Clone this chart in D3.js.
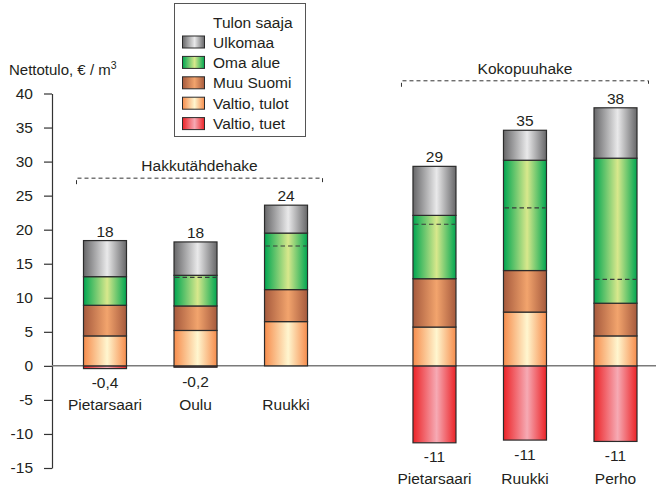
<!DOCTYPE html>
<html>
<head>
<meta charset="utf-8">
<script src="https://cdn.jsdelivr.net/npm/d3@7"></script>
<style>
  html, body { margin: 0; padding: 0; background: #fff; }
  svg { display: block; font-family: "Liberation Sans", Arial, sans-serif; }
</style>
</head>
<body>
<svg id="chart" width="656" height="486"></svg>
<script>
// Net income per solid cubic metre of wood chips, split by who receives it
const groups = ["Hakkutähdehake", "Kokopuuhake"];
const places = ["Pietarsaari", "Oulu", "Ruukki", "Pietarsaari", "Ruukki", "Perho"];
const groupOf = [0, 0, 0, 1, 1, 1];
const seriesNames = ["Ulkomaa", "Oma alue", "Muu Suomi", "Valtio, tulot", "Valtio, tuet"];

const valtioTulot = [4.4, 5.2, 6.5, 5.7, 7.9, 4.4];
const muuSuomi    = [4.5, 3.6, 4.7, 7.1, 6.1, 4.8];
const omaAlue     = [4.2, 4.5, 8.3, 9.3, 16.2, 21.3];
const ulkomaa     = [5.3, 4.9, 4.1, 7.2, 4.4, 7.4];
const valtioTuet  = [-0.4, -0.2, 0, -11.3, -10.9, -11.1];
// share of "Oma alue" below the dashed divider inside the green segment
const omaAlueLower = [null, 4.2, 6.4, 8.0, 9.2, 3.5];

const yTicks = [-15, -10, -5, 0, 5, 10, 15, 20, 25, 30, 35, 40];

// colour pairs: [edge, highlight]
const palette = {
  "Ulkomaa":       ["#676769", "#e9e9ea"],
  "Oma alue":      ["#00a651", "#d8e88c"],
  "Muu Suomi":     ["#a65a3d", "#f2a46d"],
  "Valtio, tulot": ["#f68c4c", "#fff6cf"],
  "Valtio, tuet":  ["#ec2327", "#f6aab4"]
};

const FS = 15.5;
const TXT = "#231f20";

const svg = d3.select("#chart");
const defs = svg.append("defs");
seriesNames.forEach((s, i) => {
  const g = defs.append("linearGradient")
    .attr("id", "grad" + i).attr("x1", "0%").attr("x2", "100%").attr("y1", "0%").attr("y2", "0%");
  g.append("stop").attr("offset", "0%").attr("stop-color", palette[s][0]);
  g.append("stop").attr("offset", "55%").attr("stop-color", palette[s][1]);
  g.append("stop").attr("offset", "100%").attr("stop-color", palette[s][0]);
});

// horizontal placement: bar slots with an extra gap between the two chip types
const groupGap = 0.64;
const slot = places.map((p, i) => i + groupOf[i] * groupGap);
const x = d3.scaleLinear().domain([0, 5 + groupGap]).range([105, 615.5]);
const barW = 43;

const y = d3.scaleLinear().domain([-15, 40]).range([468, 93.5]);

// y axis
const axis = d3.axisLeft(y).tickValues(yTicks).tickSize(8).tickSizeOuter(0).tickPadding(11)
  .tickFormat(d => String(d));
const ga = svg.append("g").attr("transform", "translate(52,0)").call(axis);
ga.selectAll("path, line").attr("stroke", "#333").attr("stroke-width", 1.2);
ga.selectAll("text").attr("font-size", FS).attr("fill", TXT)
  .attr("font-family", "Liberation Sans, Arial, sans-serif");

svg.append("text").attr("x", 9).attr("y", 75).attr("font-size", 15).attr("fill", TXT)
  .text("Nettotulo, € / m")
  .append("tspan").attr("font-size", 10.5).attr("dy", -6).text("3");

// zero line
svg.append("line")
  .attr("x1", 52).attr("x2", 656).attr("y1", y(0)).attr("y2", y(0))
  .attr("stroke", "#7a7a7a").attr("stroke-width", 1.5);

// stacked bars
const stackRows = places.map((p, i) => ({
  i,
  segs: [
    { s: 4, y0: valtioTuet[i], y1: 0 },
    { s: 3, y0: 0, y1: valtioTulot[i] },
    { s: 2, y0: valtioTulot[i], y1: valtioTulot[i] + muuSuomi[i] },
    { s: 1, y0: valtioTulot[i] + muuSuomi[i], y1: valtioTulot[i] + muuSuomi[i] + omaAlue[i] },
    { s: 0, y0: valtioTulot[i] + muuSuomi[i] + omaAlue[i], y1: valtioTulot[i] + muuSuomi[i] + omaAlue[i] + ulkomaa[i] }
  ]
}));

const bars = svg.append("g").selectAll("g").data(stackRows).join("g");
bars.selectAll("rect")
  .data(d => d.segs.filter(s => s.y1 - s.y0 !== 0).map(s => ({ ...s, i: d.i })))
  .join("rect")
  .attr("x", d => x(slot[d.i]) - barW / 2)
  .attr("width", barW)
  .attr("y", d => y(Math.max(d.y0, d.y1)))
  .attr("height", d => Math.abs(y(d.y0) - y(d.y1)))
  .attr("fill", d => `url(#grad${d.s})`)
  .attr("stroke", "#2b2b2b").attr("stroke-width", 1.2);

// dashed divider inside the green segment
svg.append("g").selectAll("line")
  .data(places.map((p, i) => i).filter(i => omaAlueLower[i] !== null))
  .join("line")
  .attr("x1", i => x(slot[i]) - barW / 2 + 1)
  .attr("x2", i => x(slot[i]) + barW / 2 - 1)
  .attr("y1", i => y(valtioTulot[i] + muuSuomi[i] + omaAlueLower[i]))
  .attr("y2", i => y(valtioTulot[i] + muuSuomi[i] + omaAlueLower[i]))
  .attr("stroke", "#3a3a3a").attr("stroke-width", 1.2).attr("stroke-dasharray", "4.5,3");

const total = i => valtioTulot[i] + muuSuomi[i] + omaAlue[i] + ulkomaa[i];
const fmtNeg = v => (Math.abs(v) < 1 ? d3.format(".1f")(v) : d3.format(".0f")(v)).replace(".", ",").replace("−", "-");

// totals above bars
svg.append("g").selectAll("text").data(places.map((p, i) => i)).join("text")
  .attr("x", i => x(slot[i])).attr("y", i => y(total(i)) - 4)
  .attr("text-anchor", "middle").attr("font-size", FS).attr("fill", TXT)
  .text(i => Math.round(total(i)));

// subsidy values below bars
svg.append("g").selectAll("text").data(places.map((p, i) => i).filter(i => valtioTuet[i] < 0)).join("text")
  .attr("x", i => x(slot[i])).attr("y", i => y(valtioTuet[i]) + 19.5)
  .attr("text-anchor", "middle").attr("font-size", FS).attr("fill", TXT)
  .text(i => fmtNeg(valtioTuet[i]));

// place names, aligned per chip type
const groupLow = groups.map((g, k) => d3.min(places.map((p, i) => i).filter(i => groupOf[i] === k), i => valtioTuet[i]));
svg.append("g").selectAll("text").data(places.map((p, i) => i)).join("text")
  .attr("x", i => x(slot[i])).attr("y", i => y(groupLow[groupOf[i]]) + 41)
  .attr("text-anchor", "middle").attr("font-size", FS).attr("fill", TXT)
  .text(i => places[i]);

// group brackets
const bracketPad = [[7, 15], [11.5, 11.5]];
groups.forEach((g, k) => {
  const idx = places.map((p, i) => i).filter(i => groupOf[i] === k);
  const x0 = x(slot[idx[0]]) - barW / 2 - bracketPad[k][0];
  const x1 = x(slot[idx[idx.length - 1]]) + barW / 2 + bracketPad[k][1];
  const yb = y(d3.max(idx, total)) - 27;
  const gb = svg.append("g").attr("stroke", "#333").attr("stroke-width", 1).attr("fill", "none");
  gb.append("path")
    .attr("d", `M${x0},${yb + 6}V${yb}H${x1}V${yb + 6}`)
    .attr("stroke-dasharray", "4,3");
  svg.append("text").attr("x", (x0 + x1) / 2).attr("y", yb - 7)
    .attr("text-anchor", "middle").attr("font-size", FS).attr("fill", TXT).text(g);
});

// legend
const lg = svg.append("g");
lg.append("rect").attr("x", 174.5).attr("y", 3.5).attr("width", 131).attr("height", 133)
  .attr("fill", "#fff").attr("stroke", "#555").attr("stroke-width", 1);
lg.append("text").attr("x", 213).attr("y", 28).attr("font-size", FS).attr("fill", TXT).text("Tulon saaja");
seriesNames.forEach((s, i) => {
  const cy = 42 + 20.4 * i;
  lg.append("rect").attr("x", 182.5).attr("y", cy - 6).attr("width", 22).attr("height", 12)
    .attr("fill", `url(#grad${i})`).attr("stroke", "#2b2b2b").attr("stroke-width", 1);
  lg.append("text").attr("x", 213).attr("y", cy + 5.5).attr("font-size", FS).attr("fill", TXT).text(s);
});
</script>
</body>
</html>
